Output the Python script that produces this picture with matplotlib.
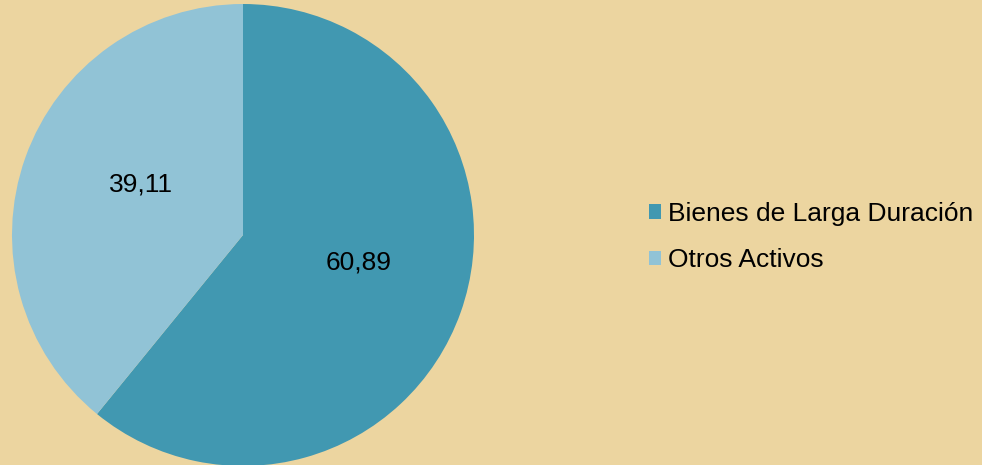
import matplotlib
matplotlib.use("Agg")
import matplotlib.pyplot as plt
from matplotlib.patches import Patch

categories = ["Bienes de Larga Duración", "Otros Activos"]
values = [60.89, 39.11]
value_labels = ["60,89", "39,11"]
colors = ["#4198B1", "#91C3D6"]
bg = "#ECD5A0"

plt.rcParams['font.family'] = ['Liberation Sans', 'DejaVu Sans']

W, H = 982, 465
fig = plt.figure(figsize=(W / 100, H / 100), dpi=100)
fig.patch.set_facecolor(bg)

cx, cy, r = 243, 235, 231
ax = fig.add_axes([(cx - r) / W, (H - cy - r) / H, 2 * r / W, 2 * r / H])
ax.set_facecolor('none')
wedges, texts = ax.pie(values, colors=colors, startangle=90, counterclock=False,
                       radius=1, labels=value_labels, labeldistance=0.5,
                       wedgeprops=dict(linewidth=0),
                       textprops=dict(fontsize=19, color='black', ha='center', va='center'))
for t in texts:
    x, y = t.get_position()
    t.set_position((x + 0.03, y + 0.05))
ax.set_xlim(-1, 1)
ax.set_ylim(-1, 1)
ax.set_aspect('equal')
ax.axis('off')

handles = [Patch(facecolor=c, edgecolor='none') for c in colors]
fig.legend(handles, categories, loc='center left', bbox_to_anchor=(649 / W, 1 - 237 / H),
           frameon=False, fontsize=19, handlelength=0.46, handleheight=0.46,
           handletextpad=0.25, labelspacing=0.85, borderpad=0, borderaxespad=0)

fig.savefig("out.png", dpi=100, facecolor=bg)
